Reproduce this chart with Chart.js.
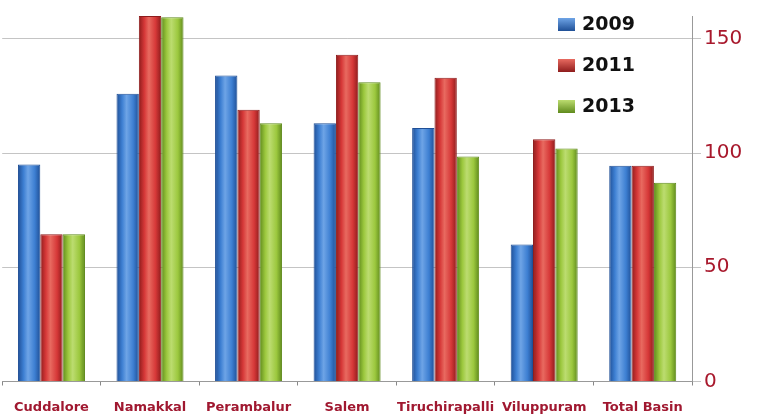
<!DOCTYPE html>
<html>
<head>
<meta charset="utf-8">
<script src="https://cdn.jsdelivr.net/npm/chart.js@4/dist/chart.umd.min.js"></script>
<style>
  html, body { margin: 0; padding: 0; background: #fff; }
  #wrap { width: 759px; height: 416px; position: relative; }
</style>
</head>
<body>
<div id="wrap"><canvas id="bar-chart"></canvas></div>
<script>
const categories = ["Cuddalore", "Namakkal", "Perambalur", "Salem", "Tiruchirapalli", "Viluppuram", "Total Basin"];
const years = ["2009", "2011", "2013"];
const values2009 = [95, 126, 134, 113, 111, 60, 94.5];
const values2011 = [64.5, 160, 119, 143, 133, 106, 94.5];
const values2013 = [64.5, 159.5, 113, 131, 98.5, 102, 87];
const yTicks = [0, 50, 100, 150];

// [edge, middle, highlight] for each series
const shades = [
  ["#1f4f96", "#3d7fd2", "#6ea4e6"],
  ["#8e1c1c", "#d63838", "#e86a60"],
  ["#5f8a1c", "#9cc83e", "#bcdc70"]
];

const CAT_PCT = 0.68;

function barGradient(context) {
  const chart = context.chart;
  const ds = context.datasetIndex;
  const s = shades[ds];
  const xs = chart.scales.x;
  if (!chart.chartArea || !xs || context.dataIndex === undefined) return s[1];
  const catW = xs.width / categories.length;
  const barW = catW * CAT_PCT / 3;
  const cx = xs.getPixelForValue(context.dataIndex) + (ds - 1) * barW;
  const g = chart.ctx.createLinearGradient(cx - barW / 2, 0, cx + barW / 2, 0);
  g.addColorStop(0, s[0]);
  g.addColorStop(0.25, s[1]);
  g.addColorStop(0.45, s[2]);
  g.addColorStop(0.75, s[1]);
  g.addColorStop(1, s[0]);
  return g;
}

// legend drawn inside the plot, top right
const innerLegend = {
  id: "innerLegend",
  afterDraw(chart) {
    const ctx = chart.ctx;
    ctx.save();
    years.forEach((y, i) => {
      const top = 18 + i * 41;
      const g = ctx.createLinearGradient(0, top, 0, top + 13);
      g.addColorStop(0, shades[i][2]);
      g.addColorStop(1, shades[i][0]);
      ctx.fillStyle = g;
      ctx.fillRect(558, top, 17, 13);
      ctx.fillStyle = "#111";
      ctx.font = "bold 19px 'DejaVu Sans', sans-serif";
      ctx.textBaseline = "middle";
      ctx.fillText(y, 582, top + 7);
    });
    ctx.restore();
  }
};

new Chart(document.getElementById("bar-chart"), {
  type: "bar",
  data: {
    labels: categories,
    datasets: [values2009, values2011, values2013].map((vals, i) => ({
      label: years[i],
      data: vals,
      backgroundColor: barGradient,
      borderColor: shades[i][0],
      borderWidth: 1,
      categoryPercentage: CAT_PCT,
      barPercentage: 1
    }))
  },
  options: {
    responsive: true,
    maintainAspectRatio: false,
    animation: false,
    layout: { padding: { top: 16, left: 1, right: 0, bottom: 0 } },
    plugins: {
      legend: { display: false },
      tooltip: { enabled: false }
    },
    scales: {
      x: {
        grid: { drawOnChartArea: false, tickLength: 4, color: "#888" },
        border: { color: "#999" },
        ticks: {
          color: "#a01830",
          font: { family: "'DejaVu Sans', sans-serif", size: 13, weight: "bold" },
          padding: 14,
          maxRotation: 0,
          autoSkip: false
        },
        afterFit(scale) { scale.height = 34.5; }
      },
      y: {
        position: "right",
        min: 0,
        max: 160,
        afterBuildTicks(scale) { scale.ticks = yTicks.map((v) => ({ value: v })); },
        grid: { color: "#c4c4c4", tickLength: 9 },
        border: { color: "#999" },
        ticks: {
          color: "#a8182c",
          font: { family: "'DejaVu Sans', sans-serif", size: 20 },
          padding: 3
        },
        afterFit(scale) { scale.width = 67; }
      }
    }
  },
  plugins: [innerLegend]
});
</script>
</body>
</html>
